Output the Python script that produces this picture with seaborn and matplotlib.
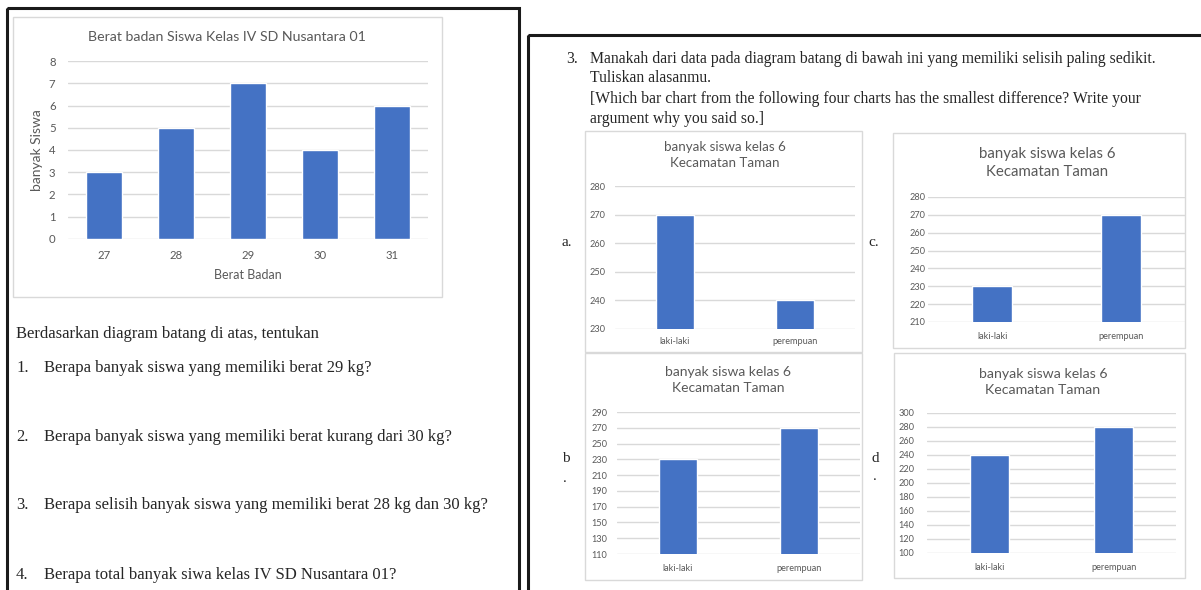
import seaborn as sns
import matplotlib.pyplot as plt
from matplotlib.patches import Rectangle

# data: left chart
weights = ['27', '28', '29', '30', '31']
students = [3, 5, 7, 4, 6]

# data: four small charts
gender = ['laki-laki', 'perempuan']
chart_a = [270, 240]
chart_b = [230, 270]
chart_c = [230, 270]
chart_d = [240, 280]

ticks_main = [0, 1, 2, 3, 4, 5, 6, 7, 8]
ticks_a = [230, 240, 250, 260, 270, 280]
ticks_b = [110, 130, 150, 170, 190, 210, 230, 250, 270, 290]
ticks_c = [210, 220, 230, 240, 250, 260, 270, 280]
ticks_d = [100, 120, 140, 160, 180, 200, 220, 240, 260, 280, 300]

main_title = 'Berat badan Siswa Kelas IV SD Nusantara 01'
small_title = 'banyak siswa kelas 6\nKecamatan Taman'

intro = 'Berdasarkan diagram batang di atas, tentukan'
questions = [
    'Berapa banyak siswa yang memiliki berat 29 kg?',
    'Berapa banyak siswa yang memiliki berat kurang dari 30 kg?',
    'Berapa selisih banyak siswa yang memiliki berat 28 kg dan 30 kg?',
    'Berapa total banyak siwa kelas IV SD Nusantara 01?',
]
task_lines = [
    'Manakah dari data pada diagram batang di bawah ini yang memiliki selisih paling sedikit.',
    'Tuliskan alasanmu.',
    '[Which bar chart from the following four charts has the smallest difference? Write your',
    'argument why you said so.]',
]

W, H = 1201, 590
BLUE = '#4472C4'
GRID = '#D9D9D9'
GREY = '#595959'
SERIF = ['Liberation Serif', 'DejaVu Serif']

sns.set_theme(style='white')
plt.rcParams['font.family'] = ['Lato', 'DejaVu Sans']

fig = plt.figure(figsize=(W / 100, H / 100), dpi=100)
fig.patch.set_facecolor('white')

# background axes in pixel coordinates for frames and page text
bg = fig.add_axes([0, 0, 1, 1])
bg.set_xlim(0, W)
bg.set_ylim(H, 0)
bg.axis('off')


def px_axes(x0, y0, x1, y1):
    return fig.add_axes([x0 / W, 1 - y1 / H, (x1 - x0) / W, (y1 - y0) / H])


def frame(x0, y0, x1, y1, color=GRID, lw=1.0):
    bg.add_patch(Rectangle((x0, y0), x1 - x0, y1 - y0, fill=False,
                           edgecolor=color, lw=lw, clip_on=False))


def bar_chart(ax, cats, vals, ticks, width, size, ypad, xpad):
    sns.barplot(x=cats, y=vals, color=BLUE, width=width, saturation=1, ax=ax)
    ax.set_ylim(ticks[0], ticks[-1])
    ax.set_yticks(ticks)
    ax.yaxis.grid(True, color=GRID, lw=1)
    ax.set_axisbelow(True)
    for s in ax.spines.values():
        s.set_visible(False)
    ax.set_facecolor('none')
    ax.tick_params(axis='y', length=0, labelsize=size, labelcolor=GREY, pad=ypad)
    ax.tick_params(axis='x', length=0, labelsize=size, labelcolor=GREY, pad=xpad)
    ax.set_xlabel('')
    ax.set_ylabel('')


# page borders
frame(7, 8, 519, 640, color='#1a1a1a', lw=2.2)
frame(528, 35, 1260, 640, color='#1a1a1a', lw=2.2)

# left chart
frame(13, 17, 442, 297)
ax = px_axes(68, 61, 428, 239)
bar_chart(ax, weights, students, ticks_main, 0.5, 8.2, 9, 8)
bg.text(227, 37, main_title, ha='center', va='center', fontsize=10.2, color=GREY)
bg.text(248, 275, 'Berat Badan', ha='center', va='center', fontsize=9, color=GREY)
bg.text(37, 150, 'banyak Siswa', ha='center', va='center', rotation=90,
        fontsize=10, color=GREY)

# left questions
bg.text(16, 334, intro, ha='left', va='center', fontsize=12, family=SERIF)
for i, (q, y) in enumerate(zip(questions, [368, 437, 505, 575])):
    bg.text(16, y, f'{i + 1}.', ha='left', va='center', fontsize=12, family=SERIF)
    bg.text(44, y, q, ha='left', va='center', fontsize=12, family=SERIF)

# right task text
bg.text(566, 59, '3.', ha='left', va='center', fontsize=11.3, family=SERIF)
for line, y in zip(task_lines, [59, 78, 99, 119]):
    bg.text(590, y, line, ha='left', va='center', fontsize=11.3, family=SERIF)

# small charts: (data, ticks, frame, axes, title centre, title size, ytick pad, xtick pad)
small = [
    (chart_a, ticks_a, (585, 131, 862, 352), (615, 186, 855, 329), (725, 155), 9.6, 7, 6),
    (chart_c, ticks_c, (893, 133, 1185, 348), (928, 197, 1185, 322), (1047, 163), 10.8, 2, 7),
    (chart_b, ticks_b, (585, 353, 862, 580), (617, 412, 860, 554), (728, 380), 10, 7, 7),
    (chart_d, ticks_d, (894, 353, 1185, 578), (927, 413, 1176, 553), (1043, 382), 10.2, 9, 7),
]
for vals, ticks, fr, axp, tpos, tsize, ypad, xpad in small:
    frame(*fr)
    sax = px_axes(*axp)
    bar_chart(sax, gender, vals, ticks, 0.31, 6.6, ypad, xpad)
    bg.text(tpos[0], tpos[1], small_title, ha='center', va='center',
            fontsize=tsize, color=GREY, linespacing=1.35)

# option letters
bg.text(561, 243, 'a.', ha='left', va='center', fontsize=11, family=SERIF)
bg.text(868, 242, 'c.', ha='left', va='center', fontsize=11, family=SERIF)
bg.text(562, 459, 'b', ha='left', va='center', fontsize=11, family=SERIF)
bg.text(563, 478, '.', ha='left', va='center', fontsize=11, family=SERIF)
bg.text(871, 458, 'd', ha='left', va='center', fontsize=11, family=SERIF)
bg.text(873, 477, '.', ha='left', va='center', fontsize=11, family=SERIF)

fig.savefig('out.png', dpi=100, facecolor='white')
